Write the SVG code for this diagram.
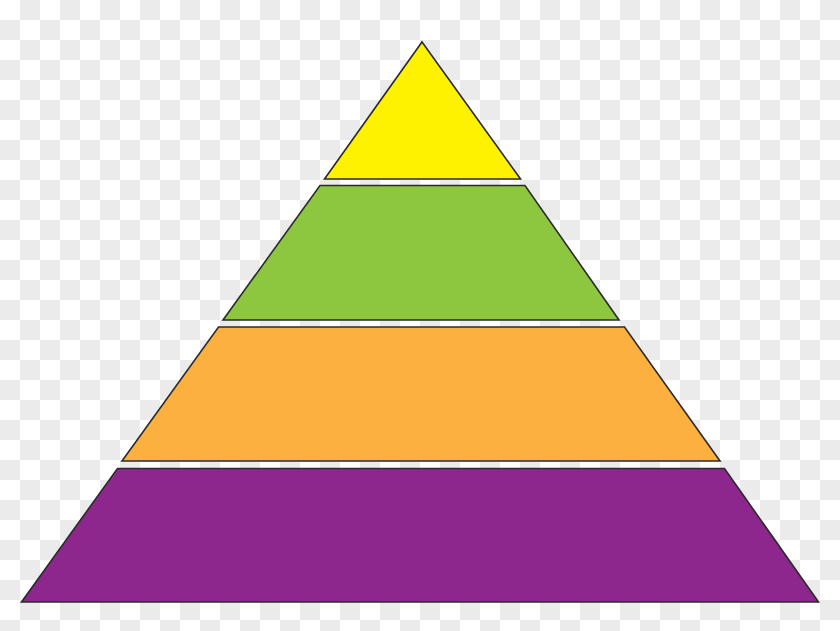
<svg xmlns="http://www.w3.org/2000/svg" width="840" height="631" viewBox="0 0 840 631">
  <defs>
    <pattern id="checker" x="0" y="0" width="40" height="40" patternUnits="userSpaceOnUse">
      <rect x="0" y="0" width="40" height="40" fill="#ffffff"/>
      <rect x="20" y="0" width="20" height="20" fill="#ebebeb"/>
      <rect x="0" y="20" width="20" height="20" fill="#ebebeb"/>
    </pattern>
  </defs>
  <style>
    .layer { stroke: #2b2b2b; stroke-width: 1.6; stroke-linejoin: miter; }
    .yellow { fill: #fff200; }
    .green { fill: #8dc63f; }
    .orange { fill: #fbb040; }
    .purple { fill: #8e278d; }
  </style>
  <rect x="0" y="0" width="840" height="631" fill="url(#checker)"/>
  <g id="layer-top">
    <polygon class="layer yellow" points="422,42 520.5,179 324.5,179"/>
  </g>
  <g id="layer-2">
    <polygon class="layer green" points="320,185.5 525,185.5 619,320 223,320"/>
  </g>
  <g id="layer-3">
    <polygon class="layer orange" points="218.5,327 624.5,327 720,461 122,461"/>
  </g>
  <g id="layer-bottom">
    <polygon class="layer purple" points="117.5,468.5 724.5,468.5 818.5,602 21.5,602"/>
  </g>
</svg>
